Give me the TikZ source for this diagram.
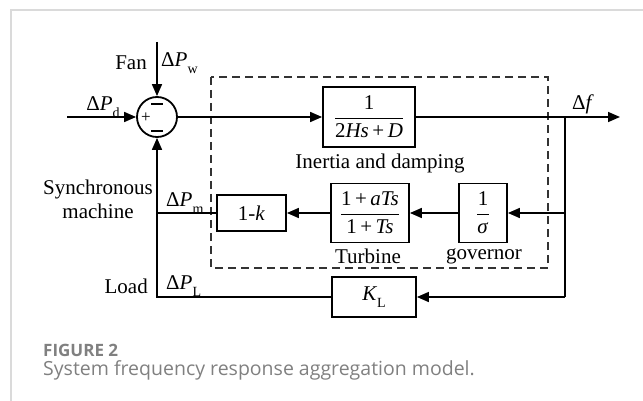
\documentclass[tikz,border=0pt]{standalone}
\usepackage{fontspec}
\setmainfont{Liberation Serif}
\newfontfamily\capfont{Open Sans}
\usetikzlibrary{arrows.meta}
\newcommand{\lo}[1]{\raisebox{-0.3em}{\fontsize{14}{14}\selectfont #1}}
\newcommand{\dP}{Δ\textit{P}}
\definecolor{capgray}{HTML}{808080}
\definecolor{framegray}{HTML}{DADADA}
\begin{document}
\begin{tikzpicture}[x=1pt,y=-1pt, font=\fontsize{21}{24}\selectfont,
  wire/.style={line width=1.6pt},
  arr/.style={wire,-{Triangle[length=12pt,width=10pt]}},
  blk/.style={draw,line width=1.8pt,inner sep=0pt},
  lbl/.style={inner sep=0pt}]
\useasboundingbox (0,0) rectangle (643,401);
% frame
\draw[framegray,line width=1.5pt] (11,401) -- (11,10) -- (643,10);
% dashed box
\draw[line width=1.2pt,dash pattern=on 8pt off 5pt,black!80] (211,77) rectangle (548,268);
% summing junction
\node[draw,circle,line width=1.8pt,minimum size=40pt,inner sep=0pt] (sum) at (157,117) {};
\draw[line width=1.8pt] (151,104) -- (163,104);
\draw[line width=1.8pt] (151,131) -- (163,131);
\node[lbl,font=\fontsize{17}{17}\selectfont] (plus) at (146,118) {+};
% blocks
\node[blk,minimum width=92pt,minimum height=60pt] (blk1) at (369,117)
  {$\displaystyle\frac{\mbox{1}}{\mbox{2\textit{Hs}\,+\,\textit{D}}}$};
\node[blk,minimum width=78pt,minimum height=59pt] (turb) at (370,213)
  {$\displaystyle\frac{\mbox{1\,+\,\textit{aTs}}}{\mbox{1\,+\,\textit{Ts}}}$};
\node[blk,minimum width=48pt,minimum height=59pt] (gov) at (483,213)
  {$\displaystyle\frac{\mbox{1}}{\mbox{\textit{σ}}}$};
\node[blk,minimum width=69pt,minimum height=36pt] (onek) at (251.5,213) {1-\textit{k}};
\node[blk,minimum width=84pt,minimum height=40pt] (kl) at (374,297) {\textit{K}\lo{L}};
% coordinates
\coordinate (fanin) at (157,42);
\coordinate (din) at (67,117);
\coordinate (b1) at (565,117);
\coordinate (b2) at (565,213);
\coordinate (b3) at (565,297);
\coordinate (out) at (620,117);
\coordinate (c1) at (157,213);
\coordinate (c2) at (157,297);
% connectors
\draw[arr] (fanin) -- (sum.north);
\draw[arr] (din) -- (sum.west);
\draw[arr] (sum.east) -- (blk1.west);
\draw[arr] (blk1.east) -- (out);
\draw[wire] (b1) -- (b3);
\draw[arr] (b2) -- (gov.east);
\draw[arr] (gov.west) -- (turb.east);
\draw[arr] (turb.west) -- (onek.east);
\draw[wire] (onek.west) -- (c1);
\draw[arr] (b3) -- (kl.east);
\draw[arr] (kl.west) -- (c2) -- (sum.south);
% labels
\node[lbl,anchor=east] (fan) at (147,63) {Fan};
\node[lbl,anchor=west] (pw) at (161,63) {\dP\lo{w}};
\node[lbl] (pd) at (103,107) {\dP\lo{d}};
\node[lbl] (inert) at (380,163) {Inertia and damping};
\node[lbl] (df) at (583,104) {Δ\textit{f}};
\node[lbl,align=center] (sync) at (98,199) {Synchronous\\machine};
\node[lbl,anchor=west] (pm) at (166,203) {\dP\lo{m}};
\node[lbl,anchor=east] (load) at (148,286) {Load};
\node[lbl,anchor=west] (pl) at (166,286) {\dP\lo{L}};
\node[lbl] (turbl) at (368,256) {Turbine};
\node[lbl] (govl) at (484,256) {governor};
% caption
\node[lbl,anchor=west,text=capgray,font=\capfont\bfseries\fontsize{17}{19}\selectfont] (fig) at (43,350) {FIGURE 2};
\node[lbl,anchor=west,text=capgray,font=\capfont\fontsize{19.5}{22}\selectfont] (cap) at (43,370) {System frequency response aggregation model.};
\end{tikzpicture}
\end{document}
